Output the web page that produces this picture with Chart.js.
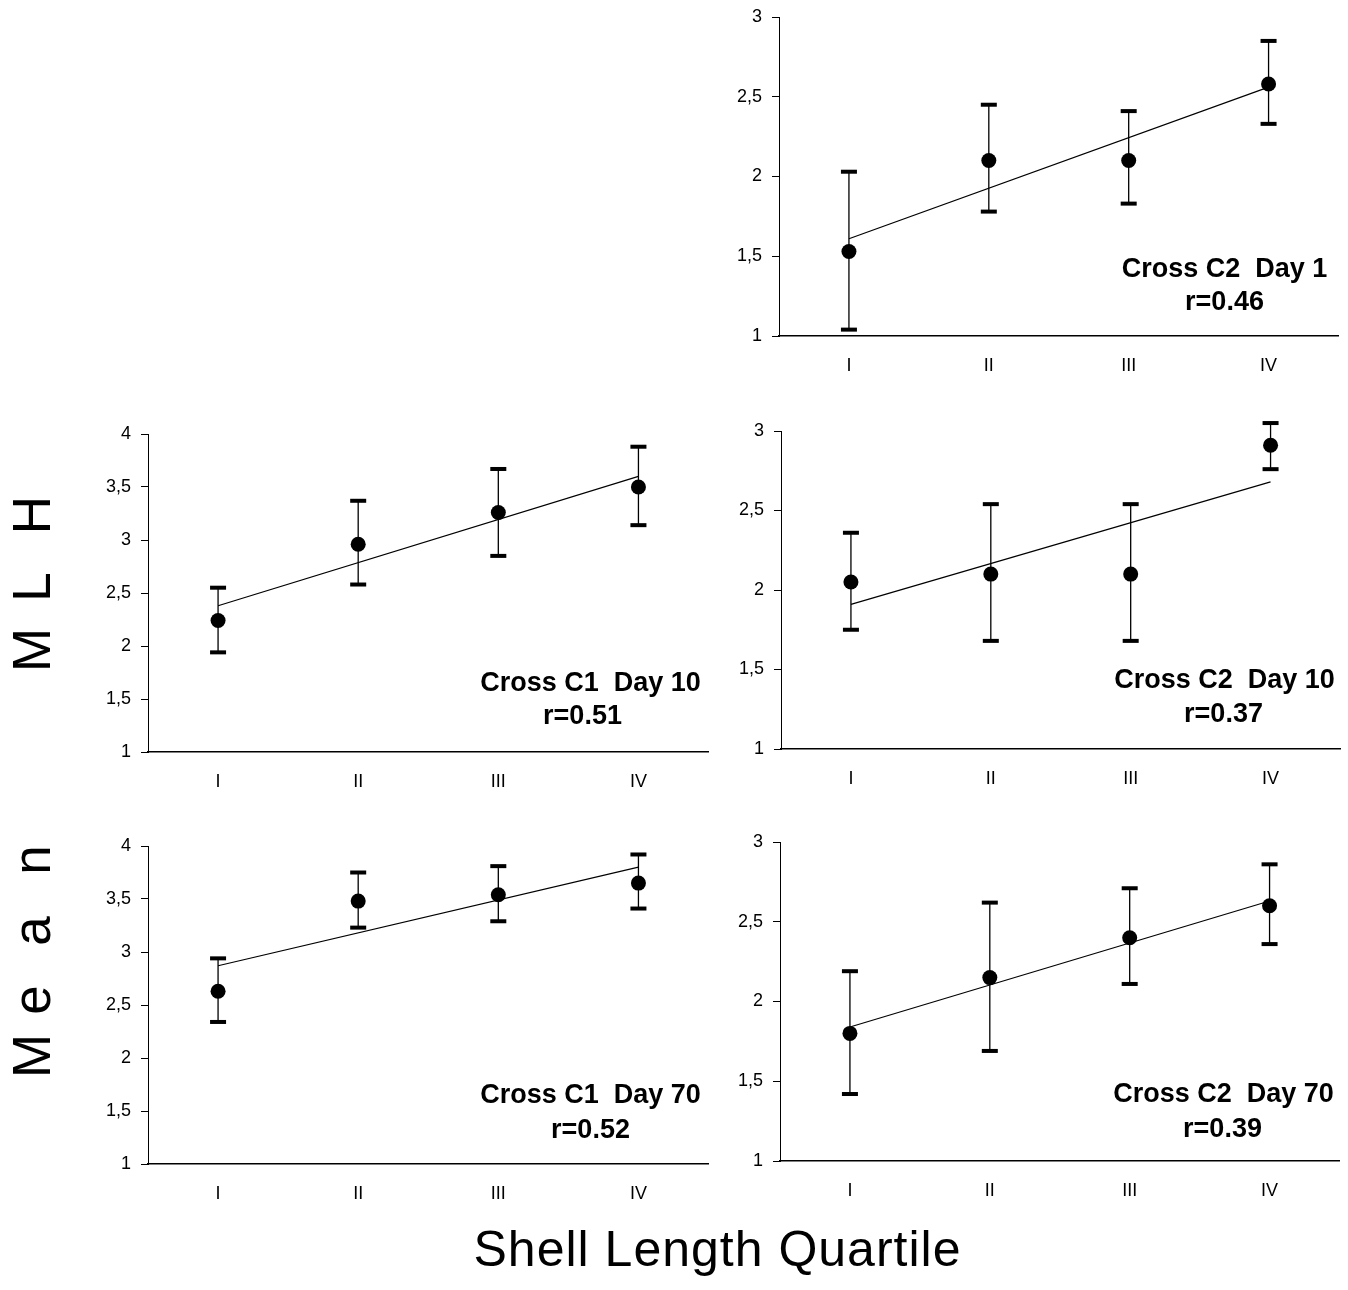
<!DOCTYPE html>
<html><head><meta charset="utf-8">
<script src="https://cdn.jsdelivr.net/npm/chart.js@4.4.1/dist/chart.umd.min.js"></script>
<style>
html,body{margin:0;padding:0;background:#fff;}
body{width:1348px;height:1290px;position:relative;overflow:hidden;font-family:"Liberation Sans",Arial,Helvetica,sans-serif;color:#000;}
canvas{position:absolute;}
#ylab{position:absolute;left:0;top:1100px;width:700px;height:60px;transform-origin:0 0;transform:rotate(-90deg);}
#ylab span{position:absolute;top:5px;font-size:53px;line-height:53px;transform:translateX(-50%);color:#000;}
#xlab{position:absolute;left:0;top:1224px;width:1435px;text-align:center;font-size:50px;line-height:50px;letter-spacing:1px;color:#000;}
</style></head><body>
<canvas id="cA"></canvas>
<canvas id="cB"></canvas>
<canvas id="cC"></canvas>
<canvas id="cD"></canvas>
<canvas id="cE"></canvas>
<div id="ylab"><span style="left:44px">M</span><span style="left:100px">e</span><span style="left:169px">a</span><span style="left:240px">n</span><span style="left:450px">M</span><span style="left:513px">L</span><span style="left:585px">H</span></div>
<div id="xlab">Shell Length Quartile</div>
<script>
const categories = ['I', 'II', 'III', 'IV'];

// Cross C2 Day 1
const c2d1Mean  = [1.53, 2.10, 2.10, 2.58];
const c2d1Upper = [2.03, 2.45, 2.41, 2.85];
const c2d1Lower = [1.04, 1.78, 1.83, 2.33];
const c2d1Fit   = [1.61, 2.56];

// Cross C1 Day 10
const c1d10Mean  = [2.24, 2.96, 3.26, 3.50];
const c1d10Upper = [2.55, 3.37, 3.67, 3.88];
const c1d10Lower = [1.94, 2.58, 2.85, 3.14];
const c1d10Fit   = [2.38, 3.60];

// Cross C2 Day 10
const c2d10Mean  = [2.05, 2.10, 2.10, 2.91];
const c2d10Upper = [2.36, 2.54, 2.54, 3.05];
const c2d10Lower = [1.75, 1.68, 1.68, 2.76];
const c2d10Fit   = [1.91, 2.68];

// Cross C1 Day 70
const c1d70Mean  = [2.63, 3.48, 3.54, 3.65];
const c1d70Upper = [2.94, 3.75, 3.81, 3.92];
const c1d70Lower = [2.34, 3.23, 3.29, 3.41];
const c1d70Fit   = [2.87, 3.80];

// Cross C2 Day 70
const c2d70Mean  = [1.80, 2.15, 2.40, 2.60];
const c2d70Upper = [2.19, 2.62, 2.71, 2.86];
const c2d70Lower = [1.42, 1.69, 2.11, 2.36];
const c2d70Fit   = [1.84, 2.63];

const FONT = '"Liberation Sans", Arial, Helvetica, sans-serif';

const panels = [
  {id:'cA', title:'Cross C2  Day 1',  r:'r=0.46', mean:c2d1Mean,  upper:c2d1Upper,  lower:c2d1Lower,  fit:c2d1Fit,  yMax:3,
   area:{left:779, right:1340, top:17, bottom:336}, txt:{dx1:114, dy1:59, dx2:114, dy2:26}},
  {id:'cB', title:'Cross C1  Day 10', r:'r=0.51', mean:c1d10Mean, upper:c1d10Upper, lower:c1d10Lower, fit:c1d10Fit, yMax:4,
   area:{left:148, right:710, top:434, bottom:752}, txt:{dx1:118, dy1:61, dx2:126, dy2:28}},
  {id:'cC', title:'Cross C2  Day 10', r:'r=0.37', mean:c2d10Mean, upper:c2d10Upper, lower:c2d10Lower, fit:c2d10Fit, yMax:3,
   area:{left:781, right:1342, top:431, bottom:749}, txt:{dx1:116, dy1:61, dx2:117, dy2:27}},
  {id:'cD', title:'Cross C1  Day 70', r:'r=0.52', mean:c1d70Mean, upper:c1d70Upper, lower:c1d70Lower, fit:c1d70Fit, yMax:4,
   area:{left:148, right:710, top:846, bottom:1164}, txt:{dx1:118, dy1:61, dx2:118, dy2:26}},
  {id:'cE', title:'Cross C2  Day 70', r:'r=0.39', mean:c2d70Mean, upper:c2d70Upper, lower:c2d70Lower, fit:c2d70Fit, yMax:3,
   area:{left:780, right:1341, top:842, bottom:1161}, txt:{dx1:116, dy1:59, dx2:117, dy2:24}}
];

const errorBarPlugin = {
  id: 'errorBars',
  beforeDatasetsDraw(chart, args, opts) {
    const ctx = chart.ctx, x = chart.scales.x, y = chart.scales.y;
    ctx.save();
    ctx.strokeStyle = '#000'; ctx.fillStyle = '#000'; ctx.lineWidth = 1.3;
    opts.upper.forEach((u, i) => {
      const px = x.getPixelForValue(i);
      const pu = y.getPixelForValue(u), pl = y.getPixelForValue(opts.lower[i]);
      ctx.beginPath(); ctx.moveTo(px, pu); ctx.lineTo(px, pl); ctx.stroke();
      ctx.fillRect(px - 8, pu - 2, 16, 4);
      ctx.fillRect(px - 8, pl - 2, 16, 4);
    });
    ctx.restore();
  }
};

const textPlugin = {
  id: 'panelText',
  afterDraw(chart, args, opts) {
    const ctx = chart.ctx, a = chart.chartArea;
    ctx.save();
    ctx.fillStyle = '#000';
    ctx.font = 'bold 27px ' + FONT;
    ctx.textAlign = 'center';
    ctx.textBaseline = 'alphabetic';
    ctx.fillText(opts.title, a.right - opts.dx1, a.bottom - opts.dy1);
    ctx.fillText(opts.r, a.right - opts.dx2, a.bottom - opts.dy2);
    ctx.restore();
  }
};

const PAD_TOP = 24, PAD_RIGHT = 6, YW = 60, XH = 50;

panels.forEach(p => {
  const cv = document.getElementById(p.id);
  const left = p.area.left - YW, top = p.area.top - PAD_TOP;
  const w = (p.area.right - p.area.left) + YW + PAD_RIGHT;
  const h = (p.area.bottom - p.area.top) + PAD_TOP + XH;
  cv.width = w; cv.height = h;
  cv.style.left = left + 'px'; cv.style.top = top + 'px';
  cv.style.width = w + 'px'; cv.style.height = h + 'px';

  new Chart(cv, {
    type: 'line',
    data: {
      labels: categories,
      datasets: [
        {data: p.mean, showLine: false, pointRadius: 7.5, pointHoverRadius: 7.5, pointBackgroundColor: '#000',
         pointBorderColor: '#000', pointBorderWidth: 0, borderColor: '#000', clip: false, order: 0},
        {data: [{x: categories[0], y: p.fit[0]}, {x: categories[3], y: p.fit[1]}], borderColor: '#000',
         borderWidth: 1.2, pointRadius: 0, pointHoverRadius: 0, fill: false, clip: false, order: 1}
      ]
    },
    options: {
      responsive: false, animation: false, events: [], devicePixelRatio: 1,
      layout: {padding: {top: PAD_TOP, right: PAD_RIGHT, left: 0, bottom: 0}},
      plugins: {
        legend: {display: false}, tooltip: {enabled: false},
        errorBars: {upper: p.upper, lower: p.lower},
        panelText: Object.assign({title: p.title, r: p.r}, p.txt)
      },
      scales: {
        x: {
          type: 'category', offset: true,
          grid: {display: false, drawTicks: false},
          border: {display: true, color: '#000', width: 1.5},
          ticks: {color: '#000', font: {size: 18, family: FONT}, padding: 19},
          afterFit(s) { s.height = XH; }
        },
        y: {
          min: 1, max: p.yMax,
          grid: {display: true, drawOnChartArea: false, drawTicks: true, tickLength: 7, color: '#000', lineWidth: 1},
          border: {display: true, color: '#000', width: 1},
          ticks: {stepSize: 0.5, color: '#000', font: {size: 18, family: FONT}, padding: 10,
                  callback: v => String(v).replace('.', ',')},
          afterFit(s) { s.width = YW; }
        }
      }
    },
    plugins: [errorBarPlugin, textPlugin]
  });
});
</script>
</body></html>
